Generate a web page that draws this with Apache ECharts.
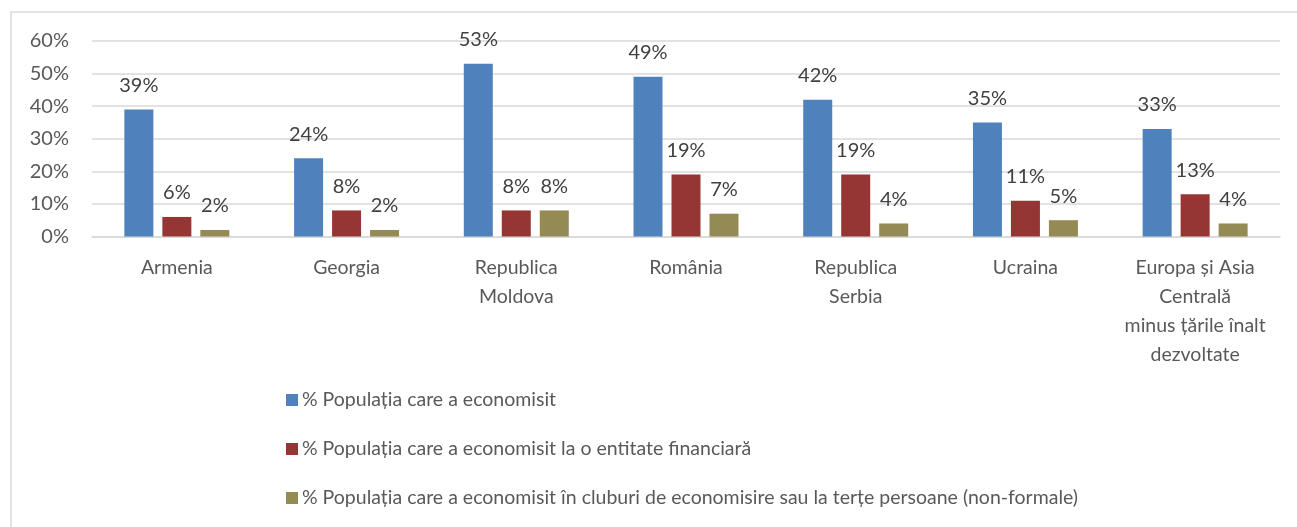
<!DOCTYPE html>
<html>
<head>
<meta charset="utf-8">
<script src="https://cdn.jsdelivr.net/npm/echarts@6/dist/echarts.min.js"></script>
<style>
html,body{margin:0;padding:0;background:#fff;}
#chart{width:1297px;height:527px;}
</style>
</head>
<body>
<div id="chart"></div>
<script>
const categories = ["Armenia", "Georgia", "Republica\nMoldova", "România", "Republica\nSerbia", "Ucraina", "Europa și Asia\nCentrală\nminus țările înalt\ndezvoltate"];
const seriesNames = [
  "% Populația care a economisit",
  "% Populația care a economisit la o entitate financiară",
  "% Populația care a economisit în cluburi de economisire sau la terțe persoane (non-formale)"
];
const saved = [39, 24, 53, 49, 42, 35, 33];
const savedFinancial = [6, 8, 8, 19, 19, 11, 13];
const savedInformal = [2, 2, 8, 7, 4, 5, 4];
const yTicks = [0, 10, 20, 30, 40, 50, 60];

const colors = ["#4f81bd", "#963634", "#948a54"];
const FONT = "Lato";
const TXT = "#595959";

const chart = echarts.init(document.getElementById('chart'));
const mk = (name, data, color) => ({
  name: name,
  type: 'bar',
  data: data,
  barWidth: 29,
  barGap: '31%',
  itemStyle: {color: color},
  label: {
    show: true, position: 'top', distance: 14,
    formatter: p => p.value + '%',
    color: '#404040', fontFamily: FONT, fontSize: 20
  }
});
chart.setOption({
  animation: false,
  textStyle: {fontFamily: FONT},
  graphic: [{
    type: 'rect', silent: true,
    shape: {x: 11, y: 12, width: 1400, height: 700},
    style: {fill: 'none', stroke: '#d9d9d9', lineWidth: 1.5}
  }],
  grid: {left: 92, right: 17, top: 41, bottom: 290.5},
  legend: {
    orient: 'vertical', left: 281, top: 385,
    itemWidth: 12, itemHeight: 12, itemGap: 29,
    icon: 'rect',
    textStyle: {color: TXT, fontFamily: FONT, fontSize: 19.5, padding: [0, 0, 0, -1]},
    data: seriesNames
  },
  xAxis: {
    type: 'category', data: categories,
    axisLine: {lineStyle: {color: '#d9d9d9', width: 1.5}},
    axisTick: {show: false},
    axisLabel: {color: TXT, fontFamily: FONT, fontSize: 19.5, lineHeight: 29, margin: 17, interval: 0}
  },
  yAxis: {
    type: 'value', min: yTicks[0], max: yTicks[yTicks.length - 1], interval: 10,
    axisLine: {show: false}, axisTick: {show: false},
    splitLine: {lineStyle: {color: '#d9d9d9', width: 1.5}},
    axisLabel: {color: TXT, fontFamily: FONT, fontSize: 20, margin: 23, formatter: v => v + '%'}
  },
  series: [
    mk(seriesNames[0], saved, colors[0]),
    mk(seriesNames[1], savedFinancial, colors[1]),
    mk(seriesNames[2], savedInformal, colors[2])
  ]
});
</script>
</body>
</html>
